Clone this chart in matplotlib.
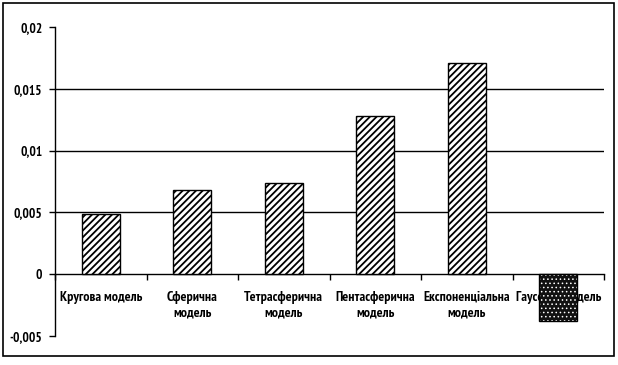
import numpy as np
import matplotlib.pyplot as plt
from matplotlib.patches import Rectangle
from matplotlib.ticker import FixedLocator, FuncFormatter

plt.rcParams['font.family'] = ['PT Sans Narrow', 'DejaVu Sans']
plt.rcParams['hatch.linewidth'] = 1.3

#### chart data
models = ["Кругова модель", "Сферична\nмодель", "Тетрасферична\nмодель",
          "Пентасферична\nмодель", "Експоненціальна\nмодель", "Гауссова модель"]
values = [0.0049, 0.0068, 0.0074, 0.0128, 0.0171, -0.0038]
y_ticks = [-0.005, 0, 0.005, 0.01, 0.015, 0.02]

x = np.arange(len(models))

fig = plt.figure(figsize=(6.18, 3.65), dpi=100)
ax = fig.add_axes([55 / 618, 29 / 365, 549 / 618, 309 / 365])

# outer frame round the whole chart
fig.patches.append(Rectangle((3 / 618, 9 / 365), 611 / 618, 353 / 365,
                             transform=fig.transFigure, fill=False,
                             edgecolor="black", linewidth=1.2))

# hatched bars for the positive values, dark dotted bar for the gaussian one
for i, v in enumerate(values):
    if v >= 0:
        ax.bar(x[i], v, width=0.42, color="white", edgecolor="black",
               hatch="/////", linewidth=1.0, zorder=3)
    else:
        dark = ax.bar(x[i], v, width=0.42, color="#111111", edgecolor="white",
                      hatch="....", linewidth=0, zorder=3)
        try:
            dark.patches[0].set_hatch_linewidth(0.6)
        except AttributeError:
            pass
        ax.bar(x[i], v, width=0.42, fill=False, edgecolor="black",
               linewidth=1.0, zorder=3.1)

ax.set_xlim(-0.5, len(models) - 0.5)
ax.set_ylim(-0.005, 0.02)

for g in [0.005, 0.01, 0.015]:
    ax.axhline(g, color="black", linewidth=1.0, zorder=1)

ax.spines["top"].set_visible(False)
ax.spines["right"].set_visible(False)
ax.spines["bottom"].set_position(("data", 0))
ax.spines["left"].set_linewidth(1.0)
ax.spines["bottom"].set_linewidth(1.0)

ax.yaxis.set_major_locator(FixedLocator(y_ticks))
ax.yaxis.set_major_formatter(FuncFormatter(
    lambda v, p: "0" if abs(v) < 1e-12 else f"{v:g}".replace(".", ",")))
ax.tick_params(axis="y", direction="out", length=4, width=1.0, pad=5,
               labelsize=9.5)
for lbl in ax.get_yticklabels():
    lbl.set_fontweight("bold")

ax.set_xticks(np.arange(-0.5, len(models), 1.0))
ax.set_xticklabels([])
ax.tick_params(axis="x", which="major", direction="out", length=4, width=1.0)
ax.set_xticks(x, minor=True)
ax.set_xticklabels(models, minor=True, fontsize=10, fontweight="bold",
                   linespacing=1.3, va="top")
ax.tick_params(axis="x", which="minor", length=0, pad=12)
ax.xaxis.set_zorder(2)

fig.savefig("out.png", dpi=100)
